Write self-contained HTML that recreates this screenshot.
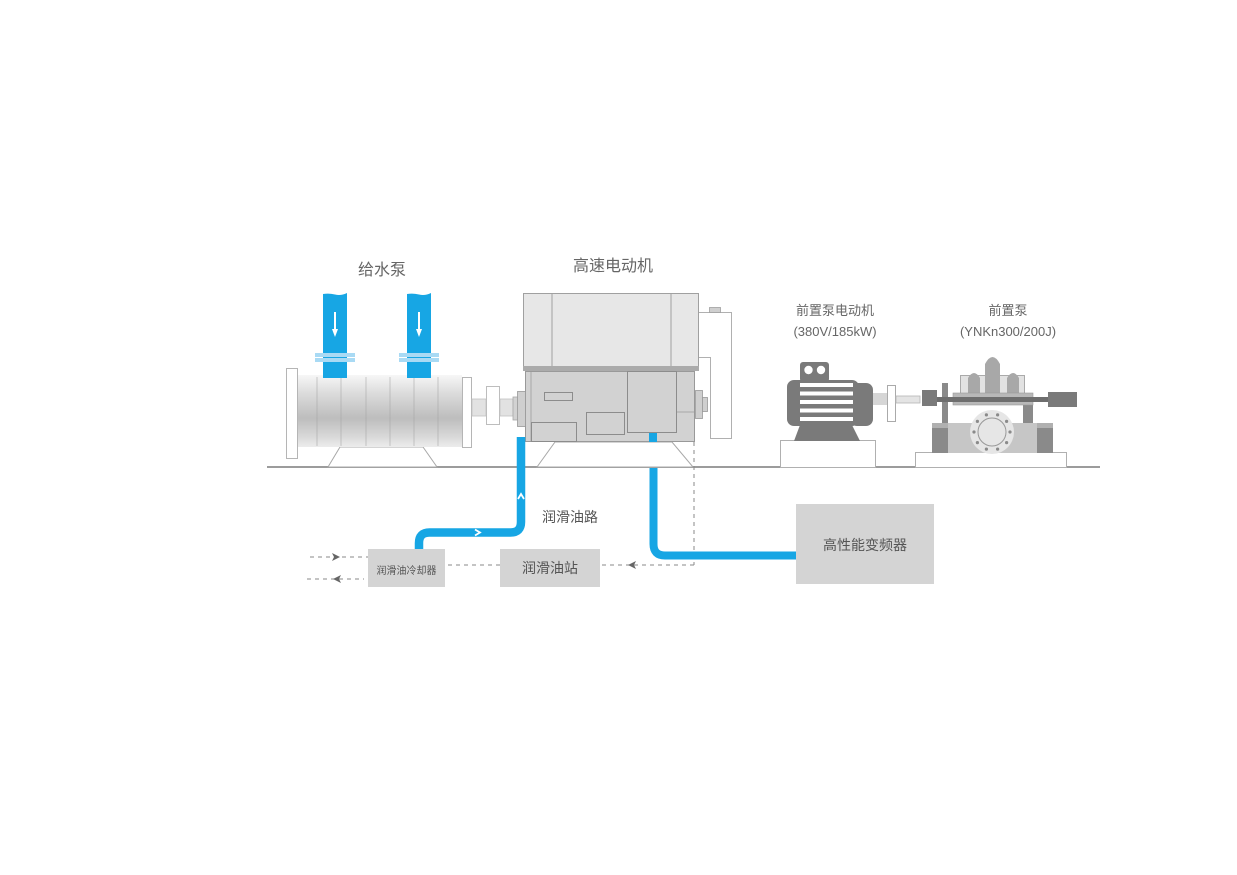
<!DOCTYPE html>
<html><head><meta charset="utf-8"><style>
html,body{margin:0;padding:0;background:#fff;}
svg{display:block;}
text{font-family:"Liberation Sans","Noto Sans CJK SC",sans-serif;}
</style></head><body>
<svg width="1237" height="875" viewBox="0 0 1237 875" xmlns="http://www.w3.org/2000/svg">
<defs>
<linearGradient id="cyl" x1="0" y1="0" x2="0" y2="1">
<stop offset="0" stop-color="#f7f7f7"/>
<stop offset="0.25" stop-color="#dcdcdc"/>
<stop offset="0.6" stop-color="#bdbdbd"/>
<stop offset="0.85" stop-color="#d8d8d8"/>
<stop offset="1" stop-color="#ececec"/>
</linearGradient>
</defs>

<!-- ground line -->
<rect x="267" y="466" width="833" height="2" fill="#9c9c9c"/>

<!-- ===== Feed pump ===== -->
<text x="382" y="275" font-size="16" fill="#666" text-anchor="middle">给水泵</text>
<path d="M340 447 L423 447 L437 467 L328 467 Z" fill="#fff" stroke="#a8a8a8" stroke-width="1"/>
<rect x="286.5" y="368.5" width="11" height="90" fill="#fff" stroke="#b5b5b5"/>
<rect x="298" y="375" width="164" height="72" fill="url(#cyl)"/>
<g stroke="#a5a5a5" stroke-width="0.8" opacity="0.7">
<line x1="317" y1="377" x2="317" y2="446"/>
<line x1="341" y1="377" x2="341" y2="446"/>
<line x1="366" y1="377" x2="366" y2="446"/>
<line x1="390" y1="377" x2="390" y2="446"/>
<line x1="414" y1="377" x2="414" y2="446"/>
<line x1="438" y1="377" x2="438" y2="446"/>
</g>
<rect x="462.5" y="377.5" width="9" height="70" fill="#fff" stroke="#b5b5b5"/>
<rect x="472" y="399" width="14" height="17" fill="#e2e2e2" stroke="#c2c2c2" stroke-width="0.8"/>
<rect x="486.5" y="386.5" width="13" height="38" fill="#fff" stroke="#bdbdbd"/>
<rect x="500" y="399" width="13" height="17" fill="#e2e2e2" stroke="#c2c2c2" stroke-width="0.8"/>
<rect x="513" y="397" width="5" height="23" fill="#d2d2d2" stroke="#a8a8a8" stroke-width="0.8"/>

<!-- pipes -->
<path d="M323 294 Q329 293 335 294.5 Q341 296 347 293 L347 378 L323 378 Z" fill="#17a6e4"/>
<path d="M407 294 Q413 293 419 294.5 Q425 296 431 293 L431 378 L407 378 Z" fill="#17a6e4"/>
<g fill="#fff" stroke="#fff">
<line x1="335" y1="312" x2="335" y2="330" stroke-width="2"/>
<path d="M332 329 L338 329 L335 337 Z" stroke="none"/>
<line x1="419" y1="312" x2="419" y2="330" stroke-width="2"/>
<path d="M416 329 L422 329 L419 337 Z" stroke="none"/>
</g>
<g fill="#a9daf4">
<rect x="315" y="353" width="40" height="4"/>
<rect x="315" y="358" width="40" height="4"/>
<rect x="399" y="353" width="40" height="4"/>
<rect x="399" y="358" width="40" height="4"/>
</g>

<!-- ===== High speed motor ===== -->
<text x="613" y="271" font-size="16" fill="#666" text-anchor="middle">高速电动机</text>
<path d="M555 442 L672 442 L693 467 L537 467 Z" fill="#fff" stroke="#a8a8a8" stroke-width="1"/>
<path d="M699 312.5 H731.5 V438.5 H710.5 V357.5 H699" fill="none" stroke="#b0b0b0" stroke-width="1"/>
<rect x="709.5" y="307.5" width="11" height="5" fill="#cfcfcf" stroke="#a0a0a0" stroke-width="0.8"/>
<rect x="523.5" y="293.5" width="175" height="73" fill="#e7e7e7" stroke="#a0a0a0"/>
<line x1="552" y1="294" x2="552" y2="366" stroke="#a0a0a0"/>
<line x1="671" y1="294" x2="671" y2="366" stroke="#a0a0a0"/>
<rect x="523" y="366" width="176" height="5" fill="#ababab"/>
<rect x="525.5" y="371.5" width="169" height="70" fill="#d2d2d2" stroke="#999"/>
<line x1="531" y1="372" x2="531" y2="441" stroke="#a8a8a8"/>
<rect x="544.5" y="392.5" width="28" height="8" fill="#d2d2d2" stroke="#8c8c8c"/>
<rect x="586.5" y="412.5" width="38" height="22" fill="#d2d2d2" stroke="#8c8c8c"/>
<rect x="531.5" y="422.5" width="45" height="19" fill="#d2d2d2" stroke="#8c8c8c"/>
<rect x="627.5" y="371.5" width="49" height="61" fill="#d2d2d2" stroke="#8c8c8c"/>
<line x1="677" y1="412" x2="694" y2="412" stroke="#a8a8a8"/>
<rect x="517.5" y="391.5" width="8" height="35" fill="#cfcfcf" stroke="#999" stroke-width="0.8"/>
<rect x="695.5" y="390.5" width="7" height="28" fill="#cfcfcf" stroke="#999" stroke-width="0.8"/>
<rect x="702.5" y="397.5" width="5" height="14" fill="#cfcfcf" stroke="#999" stroke-width="0.8"/>

<!-- ===== Pre-pump motor ===== -->
<text x="835" y="315" font-size="13" fill="#666" text-anchor="middle">前置泵电动机</text>
<text x="835" y="336" font-size="13" fill="#666" text-anchor="middle">(380V/185kW)</text>
<rect x="780.5" y="440.5" width="95" height="27" fill="#fff" stroke="#b0b0b0"/>
<path d="M800 425 L852 425 L860 441 L794 441 Z" fill="#7a7a7a"/>
<rect x="800" y="362" width="29" height="20" rx="3" fill="#7a7a7a"/>
<circle cx="808.5" cy="370" r="4.2" fill="#fff"/>
<circle cx="821" cy="370" r="4.2" fill="#fff"/>
<rect x="787" y="380" width="72" height="46" rx="7" fill="#7a7a7a"/>
<rect x="850" y="383" width="23" height="43" rx="7" fill="#7a7a7a"/>
<g fill="#fff">
<rect x="800" y="383" width="53" height="4"/>
<rect x="800" y="391.5" width="53" height="4"/>
<rect x="800" y="400" width="53" height="4"/>
<rect x="800" y="408.5" width="53" height="4"/>
<rect x="800" y="417" width="53" height="4"/>
</g>
<rect x="873" y="393" width="14" height="12" fill="#d6d6d6"/>
<rect x="887.5" y="385.5" width="8" height="36" fill="#fff" stroke="#aaa"/>
<rect x="896" y="396" width="24" height="7" fill="#e4e4e4" stroke="#b5b5b5" stroke-width="0.8"/>

<!-- ===== Pre-pump ===== -->
<text x="1008" y="315" font-size="13" fill="#666" text-anchor="middle">前置泵</text>
<text x="1008" y="336" font-size="13" fill="#666" text-anchor="middle">(YNKn300/200J)</text>
<rect x="915.5" y="452.5" width="151" height="15" fill="#fff" stroke="#b0b0b0"/>
<rect x="932" y="423" width="121" height="30" fill="#c6c6c6"/>
<rect x="932" y="423" width="16" height="30" fill="#8a8a8a"/>
<rect x="932" y="423" width="16" height="5" fill="#b0b0b0"/>
<rect x="1037" y="423" width="16" height="30" fill="#8a8a8a"/>
<rect x="1037" y="423" width="16" height="5" fill="#b0b0b0"/>
<circle cx="992" cy="432" r="22" fill="#e6e6e6"/>
<circle cx="992" cy="432" r="14" fill="#e6e6e6" stroke="#999" stroke-width="1"/>
<g fill="#8a8a8a">
<circle cx="1010" cy="432" r="1.6"/>
<circle cx="1006.6" cy="442.6" r="1.6"/>
<circle cx="997.6" cy="449.1" r="1.6"/>
<circle cx="986.4" cy="449.1" r="1.6"/>
<circle cx="977.4" cy="442.6" r="1.6"/>
<circle cx="974" cy="432" r="1.6"/>
<circle cx="977.4" cy="421.4" r="1.6"/>
<circle cx="986.4" cy="414.9" r="1.6"/>
<circle cx="997.6" cy="414.9" r="1.6"/>
<circle cx="1006.6" cy="421.4" r="1.6"/>
</g>
<rect x="942" y="383" width="6" height="40" fill="#8a8a8a"/>
<rect x="1023" y="405" width="10" height="18" fill="#8a8a8a"/>
<rect x="960.5" y="375.5" width="64" height="18" fill="#e2e2e2" stroke="#aaa"/>
<path d="M968 393 V378 Q974 368 980 378 V393 Z" fill="#a8a8a8"/>
<path d="M985 393 V364 Q992.5 350 1000 364 V393 Z" fill="#a8a8a8"/>
<path d="M1007 393 V378 Q1013 368 1019 378 V393 Z" fill="#a8a8a8"/>
<rect x="953" y="393" width="80" height="12" fill="#b8b8b8" stroke="#999" stroke-width="0.6"/>
<rect x="937" y="397" width="111" height="5" fill="#6e6e6e"/>
<rect x="922" y="390" width="15" height="16" fill="#7a7a7a"/>
<rect x="1048" y="392" width="29" height="15" fill="#7a7a7a"/>

<!-- ===== lower system ===== -->
<g stroke="#8a8a8a" stroke-width="1" stroke-dasharray="4 4" fill="none">
<line x1="694" y1="442" x2="694" y2="565"/>
<line x1="694" y1="565" x2="600" y2="565"/>
<line x1="500" y1="565" x2="446" y2="565"/>
<line x1="310" y1="557" x2="368" y2="557"/>
<line x1="307" y1="579" x2="364" y2="579"/>
</g>
<g fill="#666">
<path d="M628 565 L636 561 L634 565 L636 569 Z"/>
<path d="M340 557 L332 553 L334 557 L332 561 Z"/>
<path d="M333 579 L341 575 L339 579 L341 583 Z"/>
</g>

<path d="M521 437 V522 Q521 532.5 510.5 532.5 H429.5 Q419 532.5 419 543 V550" fill="none" stroke="#17a6e4" stroke-width="8.5"/>
<rect x="649" y="433" width="8" height="9" fill="#17a6e4"/>
<path d="M653.5 468 V544 Q653.5 555.5 665 555.5 H797" fill="none" stroke="#17a6e4" stroke-width="8"/>
<path d="M518 499 L521 494 L524 499" fill="none" stroke="#fff" stroke-width="1.8"/>
<path d="M475 529.5 L480 532.5 L475 535.5" fill="none" stroke="#fff" stroke-width="1.8"/>

<text x="570" y="522" font-size="14" fill="#555" text-anchor="middle">润滑油路</text>

<rect x="368" y="549" width="77" height="38" fill="#d4d4d4"/>
<text x="406.5" y="574" font-size="10" fill="#555" text-anchor="middle">润滑油冷却器</text>
<rect x="500" y="549" width="100" height="38" fill="#d4d4d4"/>
<text x="550" y="573" font-size="14" fill="#555" text-anchor="middle">润滑油站</text>
<rect x="796" y="504" width="138" height="80" fill="#d4d4d4"/>
<text x="865" y="550" font-size="14" fill="#555" text-anchor="middle">高性能变频器</text>
</svg>
</body></html>
